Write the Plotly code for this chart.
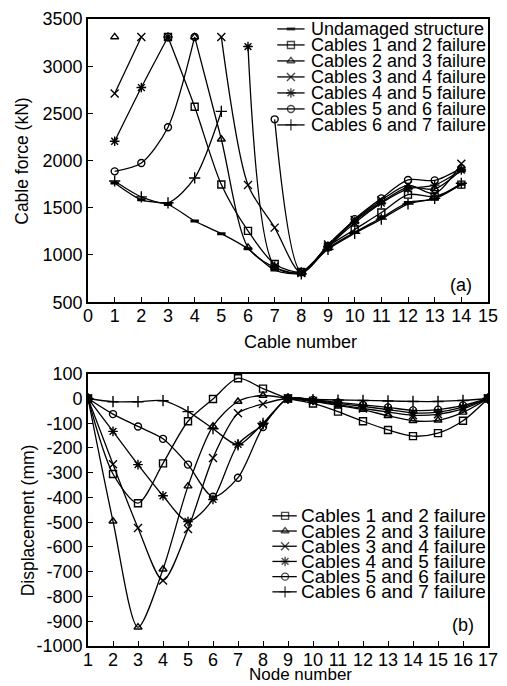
import plotly.graph_objects as go

# ---------------- data ----------------
cables = list(range(1, 15))
force_undamaged = [1763, 1585, 1535, 1360, 1226, 1065, 840, 810, 1070, 1240, 1395, 1555, 1595, 1750]
force_c12 = [None, None, 3310, 2570, 1746, 1255, 905, 820, 1090, 1270, 1450, 1640, 1620, 1745]
force_c23 = [3310, None, None, 3310, 2226, 1080, 870, 810, 1100, 1360, 1560, 1720, 1700, 1900]
force_c34 = [2711, 3310, None, None, 3310, 1742, 1290, 810, 1110, 1370, 1580, 1740, 1650, 1967]
force_c45 = [2205, 2774, 3310, None, None, 3208, 880, 820, 1090, 1340, 1550, 1700, 1740, 1900]
force_c56 = [1886, 1974, 2353, 3310, None, None, 2437, 820, 1080, 1380, 1600, 1795, 1790, 1920]
force_c67 = [1784, 1616, 1553, 1816, 2521, None, None, 800, 1060, 1230, 1380, 1540, 1600, 1760]

nodes = list(range(1, 18))
disp_c12 = [0, -305, -423, -262, -92, -2, 82, 40, 0, -20, -53, -92, -127, -152, -140, -90, 0]
disp_c23 = [0, -496, -924, -690, -354, -112, -12, 12, 0, -12, -28, -45, -70, -90, -88, -56, 0]
disp_c34 = [0, -266, -523, -735, -527, -240, -60, -22, 0, -10, -25, -40, -55, -68, -64, -42, 0]
disp_c45 = [0, -133, -267, -393, -497, -408, -185, -105, 0, -8, -20, -32, -45, -58, -55, -35, 0]
disp_c56 = [0, -63, -113, -163, -267, -397, -320, -115, 0, -6, -16, -26, -36, -48, -45, -28, 0]
disp_c67 = [0, -13, -13, -9, -53, -122, -187, -100, 0, -4, -6, -8, -10, -12, -12, -8, 0]

force_ticks = [500, 1000, 1500, 2000, 2500, 3000, 3500]
disp_ticks = [100, 0, -100, -200, -300, -400, -500, -600, -700, -800, -900, -1000]
disp_ticktext = ["100", "0", "-100", "-200", "-300", "-400", "-500", "-600", "-700", "-800",
                 "-900", "-1000"]

names_top = ["Undamaged structure", "Cables 1 and 2 failure", "Cables 2 and 3 failure",
             "Cables 3 and 4 failure", "Cables 4 and 5 failure", "Cables 5 and 6 failure",
             "Cables 6 and 7 failure"]
symbols_top = ["line-ew", "square-open", "triangle-up-open", "x-thin-open",
               "asterisk-open", "circle-open", "cross-thin-open"]
force_series = [force_undamaged, force_c12, force_c23, force_c34, force_c45, force_c56, force_c67]
disp_series = [disp_c12, disp_c23, disp_c34, disp_c45, disp_c56, disp_c67]

FONT = "Liberation Sans, Arial, sans-serif"
LW = 1.3

# plot-area geometry in pixels (from margins)
L, R, T, B, W, H = 88, 9, 15, 40, 507, 686
PW, PH = W - L - R, H - T - B


def px_x(px):
    return (px - L) / PW


def px_y(py):
    return (H - B - py) / PH


def marker_for(sym):
    if sym == "line-ew":
        return dict(symbol=sym, size=6, color="black", line=dict(width=3, color="black"))
    sz = 8 if sym in ("x-thin-open", "asterisk-open", "cross-thin-open") else 7
    return dict(symbol=sym, size=sz, color="black", line=dict(width=1.4, color="black"))


fig = go.Figure()

for vals, sym, nm in zip(force_series, symbols_top, names_top):
    fig.add_trace(go.Scatter(x=cables, y=vals, mode="lines+markers", name=nm,
                             line=dict(color="black", width=LW, shape="spline", smoothing=0.8),
                             marker=marker_for(sym), connectgaps=False, showlegend=False,
                             xaxis="x", yaxis="y"))

for vals, sym, nm in zip(disp_series, symbols_top[1:], names_top[1:]):
    fig.add_trace(go.Scatter(x=nodes, y=vals, mode="lines+markers", name=nm,
                             line=dict(color="black", width=LW, shape="spline", smoothing=0.8),
                             marker=marker_for(sym), showlegend=False,
                             xaxis="x2", yaxis="y2"))

# ------------- legends (drawn on a pixel-unit overlay axis) -------------
annotations = []
top_rows_y0, top_step = 25, 16.1
for i, (nm, sym) in enumerate(zip(names_top, symbols_top)):
    yy = top_rows_y0 + i * top_step
    m = marker_for(sym)
    m["size"] = [0, m["size"], 0]
    fig.add_trace(go.Scatter(x=[282, 296, 310], y=[yy] * 3, mode="lines+markers",
                             line=dict(color="black", width=LW), marker=m,
                             showlegend=False, hoverinfo="skip", xaxis="x3", yaxis="y3"))
    annotations.append(dict(x=px_x(315), y=px_y(yy), xref="paper", yref="paper", text=nm,
                            showarrow=False, xanchor="left", yanchor="middle",
                            font=dict(size=18)))

bot_rows_y0, bot_step = 515, 15.3
for i, (nm, sym) in enumerate(zip(names_top[1:], symbols_top[1:])):
    yy = bot_rows_y0 + i * bot_step
    m = marker_for(sym)
    m["size"] = [0, m["size"], 0]
    fig.add_trace(go.Scatter(x=[277, 290, 302], y=[yy] * 3, mode="lines+markers",
                             line=dict(color="black", width=LW), marker=m,
                             showlegend=False, hoverinfo="skip", xaxis="x3", yaxis="y3"))
    annotations.append(dict(x=px_x(304), y=px_y(yy), xref="paper", yref="paper", text=nm,
                            showarrow=False, xanchor="left", yanchor="middle",
                            font=dict(size=19)))

annotations.append(dict(x=px_x(484), y=px_y(283), xref="paper", yref="paper", text="(a)",
                        showarrow=False, xanchor="right", yanchor="middle", font=dict(size=18)))
annotations.append(dict(x=px_x(486), y=px_y(625), xref="paper", yref="paper", text="(b)",
                        showarrow=False, xanchor="right", yanchor="middle", font=dict(size=18)))

# axis titles
annotations.append(dict(x=px_x(306), y=px_y(340), xref="paper", yref="paper", text="Cable number",
                        showarrow=False, xanchor="center", yanchor="middle", font=dict(size=18)))
annotations.append(dict(x=px_x(306), y=px_y(675), xref="paper", yref="paper", text="Node number",
                        showarrow=False, xanchor="center", yanchor="middle", font=dict(size=17)))
annotations.append(dict(x=px_x(20), y=px_y(158), xref="paper", yref="paper",
                        text="Cable force (kN)", showarrow=False, xanchor="center",
                        yanchor="middle", textangle=-90, font=dict(size=17.5)))
annotations.append(dict(x=px_x(26), y=px_y(520), xref="paper", yref="paper",
                        text="Displacement (mm)", showarrow=False, xanchor="center",
                        yanchor="middle", textangle=-90, font=dict(size=17.5)))

axis_common = dict(showline=True, linecolor="black", linewidth=1.8, mirror=True,
                   ticks="inside", ticklen=5, tickwidth=1.3, tickcolor="black",
                   showgrid=False, zeroline=False, tickfont=dict(size=18, color="black"),
                   fixedrange=True)

fig.update_layout(
    width=W, height=H,
    margin=dict(l=L, r=R, t=T, b=B),
    paper_bgcolor="white", plot_bgcolor="rgba(0,0,0,0)",
    font=dict(family=FONT, color="black", size=17),
    showlegend=False,
    xaxis=dict(axis_common, domain=[0, 1], anchor="y", range=[0, 15], dtick=1, tick0=0,
               ticklabelstandoff=-4),
    yaxis=dict(axis_common, domain=[px_y(300), 1], anchor="x", range=[500, 3500],
               tickvals=force_ticks),
    xaxis2=dict(axis_common, domain=[0, 1], anchor="y2", range=[1, 17], dtick=1, tick0=1,
                ticklabelstandoff=-4),
    yaxis2=dict(axis_common, domain=[0, px_y(372)], anchor="x2", range=[-1000, 100],
                tickvals=disp_ticks, ticktext=disp_ticktext),
    xaxis3=dict(domain=[0, 1], anchor="y3", range=[L, W - R], visible=False, fixedrange=True),
    yaxis3=dict(domain=[0, 1], anchor="x3", range=[H - B, T], visible=False, fixedrange=True),
    annotations=annotations,
)

fig.write_html("out.html")
